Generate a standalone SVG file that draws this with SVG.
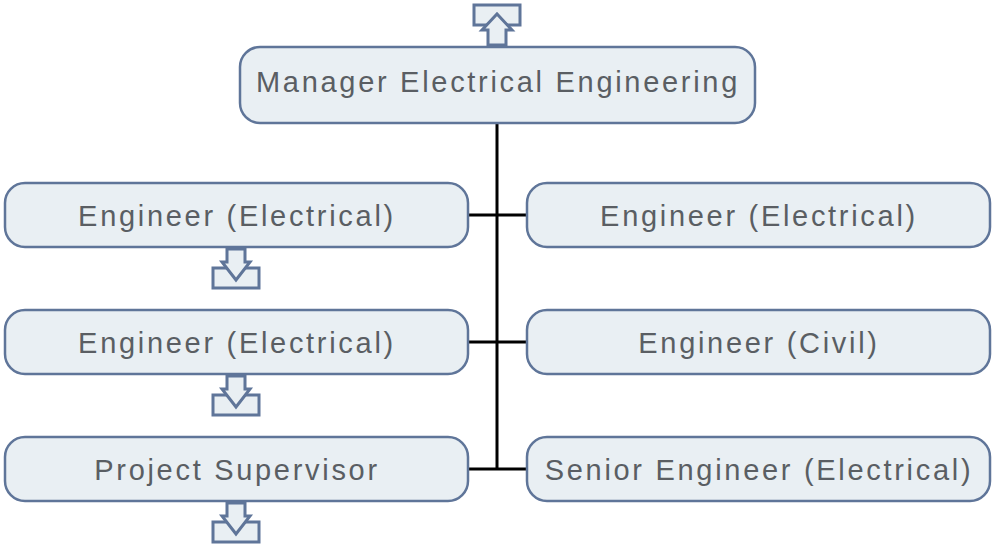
<svg xmlns="http://www.w3.org/2000/svg" width="992" height="547" viewBox="0 0 992 547">
<style>
.box{fill:#e9eff3;stroke:#5f7599;stroke-width:2.5}
.t{font-family:"Liberation Sans",Arial,sans-serif;font-size:29px;fill:#5a5e63;text-anchor:middle;letter-spacing:2.7px;font-weight:normal}
.icon{fill:#e9eff3;stroke:#5f7599;stroke-width:3;stroke-linejoin:miter}
.c{stroke:#000;stroke-width:3;fill:none}
</style>
<defs>
<g id="down">
<rect class="icon" x="-23" y="19" width="46" height="20"/>
<path class="icon" d="M-9,0 V13 H-14 L0,31 L14,13 H9 V0 Z"/>
</g>
</defs>
<g id="connectors">
<path class="c" d="M497,123 V469 M468,215 H527 M468,342 H527 M468,469 H527"/>
</g>
<g id="up-icon">
<rect class="icon" x="474" y="5" width="46" height="20"/>
<path class="icon" d="M488,45 V30 H482 L497,14 L512,30 H506 V45 Z"/>
</g>
<g id="n-manager">
<rect class="box" x="240" y="47" width="515" height="76" rx="20"/>
<text class="t" x="498" y="82" dominant-baseline="central">Manager Electrical Engineering</text>
</g>
<g id="n-left1">
<rect class="box" x="5" y="183" width="463" height="64" rx="20"/>
<text class="t" x="237" y="216" dominant-baseline="central">Engineer (Electrical)</text>
<use href="#down" x="236" y="249"/>
</g>
<g id="n-left2">
<rect class="box" x="5" y="310" width="463" height="64" rx="20"/>
<text class="t" x="237" y="343" dominant-baseline="central">Engineer (Electrical)</text>
<use href="#down" x="236" y="376"/>
</g>
<g id="n-left3">
<rect class="box" x="5" y="437" width="463" height="64" rx="20"/>
<text class="t" x="237" y="470" dominant-baseline="central">Project Supervisor</text>
<use href="#down" x="236" y="503"/>
</g>
<g id="n-right1">
<rect class="box" x="527" y="183" width="463" height="64" rx="20"/>
<text class="t" x="759" y="216" dominant-baseline="central">Engineer (Electrical)</text>
</g>
<g id="n-right2">
<rect class="box" x="527" y="310" width="463" height="64" rx="20"/>
<text class="t" x="759" y="343" dominant-baseline="central">Engineer (Civil)</text>
</g>
<g id="n-right3">
<rect class="box" x="527" y="437" width="463" height="64" rx="20"/>
<text class="t" x="759" y="470" dominant-baseline="central">Senior Engineer (Electrical)</text>
</g>
</svg>
